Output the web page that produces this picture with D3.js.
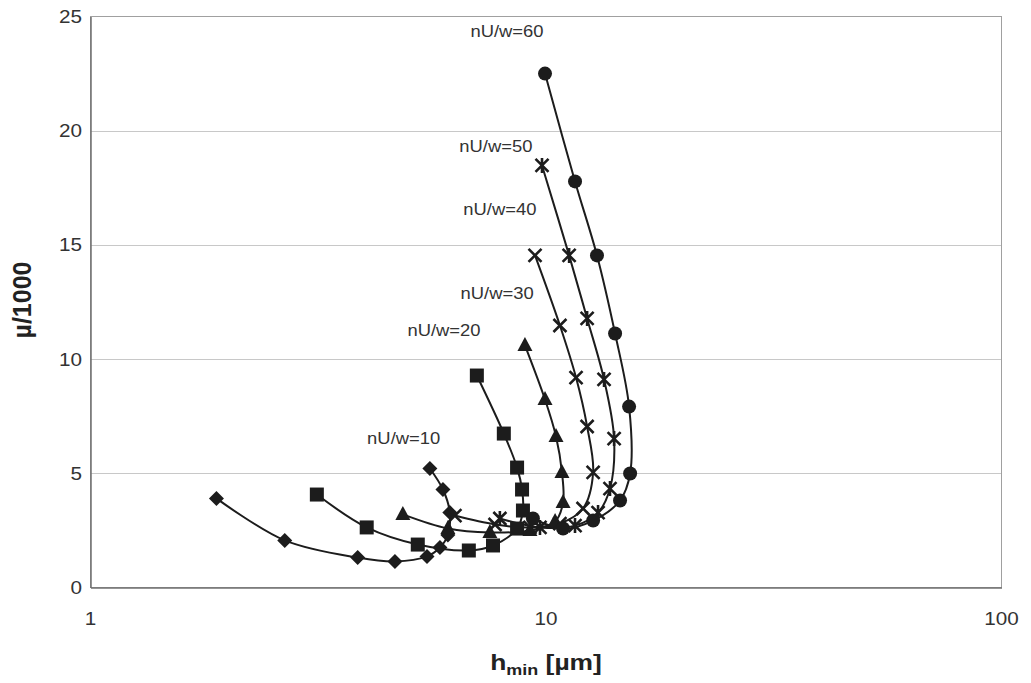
<!DOCTYPE html>
<html>
<head>
<meta charset="utf-8">
<script src="https://cdn.jsdelivr.net/npm/d3@7"></script>
<style>
  html, body { margin: 0; padding: 0; background: #ffffff; }
  svg { display: block; font-family: "Liberation Sans", Arial, sans-serif; }
</style>
</head>
<body>
<svg id="chart" width="1031" height="683"></svg>
<script>
// Minimum film thickness h_min [µm] against µ/1000 for several nU/w values
const groupNames = ["nU/w=10", "nU/w=20", "nU/w=30", "nU/w=40", "nU/w=50", "nU/w=60"];

const hmin10 = [5.56, 5.94, 6.15, 6.09, 5.85, 5.48, 4.66, 3.86, 2.67, 1.89];
const mu10   = [5.21, 4.29, 3.28, 2.30, 1.75, 1.36, 1.14, 1.31, 2.06, 3.90];

const hmin20 = [7.05, 8.08, 8.64, 8.86, 8.90, 8.64, 7.65, 6.77, 5.23, 4.04, 3.14];
const mu20   = [9.28, 6.74, 5.25, 4.29, 3.37, 2.58, 1.84, 1.62, 1.88, 2.63, 4.07];

const hmin30 = [8.99, 9.95, 10.52, 10.84, 10.90, 10.47, 9.22, 7.53, 6.09, 4.85];
const mu30   = [10.60, 8.23, 6.61, 5.04, 3.72, 2.89, 2.50, 2.41, 2.58, 3.20];

const hmin40 = [9.46, 10.73, 11.64, 12.31, 12.69, 12.06, 10.73, 9.22, 7.73, 6.31];
const mu40   = [14.54, 11.47, 9.19, 7.05, 5.04, 3.46, 2.80, 2.63, 2.76, 3.15];

const hmin50 = [9.80, 11.24, 12.31, 13.41, 14.11, 13.82, 13.01, 11.58, 9.70, 7.92];
const mu50   = [18.48, 14.54, 11.78, 9.11, 6.52, 4.33, 3.28, 2.71, 2.63, 3.02];

const hmin60 = [9.95, 11.58, 12.94, 14.18, 15.22, 15.30, 14.54, 12.69, 10.90, 9.36];
const mu60   = [22.50, 17.78, 14.54, 11.12, 7.92, 4.99, 3.81, 2.93, 2.58, 3.02];

const markerKinds = ["diamond", "square", "triangle", "cross", "star", "circle"];

// Where each curve's name is written (data units: h_min, µ/1000)
const labelH  = [4.87, 5.97, 7.81, 7.92, 7.76, 8.21];
const labelMu = [6.30, 10.99, 12.65, 16.33, 19.05, 24.10];

const xTickValues = [1, 10, 100];
const yTickValues = [0, 5, 10, 15, 20, 25];

const seriesH  = [hmin10, hmin20, hmin30, hmin40, hmin50, hmin60];
const seriesMu = [mu10, mu20, mu30, mu40, mu50, mu60];

const series = groupNames.map((name, i) => ({
  name,
  kind: markerKinds[i],
  points: seriesH[i].map((h, j) => ({ h, mu: seriesMu[i][j] }))
}));

// ---- layout ----
const svg = d3.select("#chart");
const plot = { left: 90.5, right: 1001.5, top: 16.5, bottom: 587.5 };
const widen = 1.15;   // text is set slightly wide

const x = d3.scaleLog().domain([1, 100]).range([plot.left, plot.right]);
const y = d3.scaleLinear().domain([0, 25]).range([plot.bottom, plot.top]);

const ink = "#1c1c1c";
const textInk = "#333333";

// horizontal gridlines
svg.append("g")
  .selectAll("line")
  .data(yTickValues.filter(v => v > 0 && v < 25))
  .join("line")
  .attr("x1", plot.left).attr("x2", plot.right)
  .attr("y1", d => Math.round(y(d)) + 0.5).attr("y2", d => Math.round(y(d)) + 0.5)
  .attr("stroke", "#c8c8c8").attr("stroke-width", 1);

// plot frame
svg.append("rect")
  .attr("x", plot.left).attr("y", plot.top)
  .attr("width", plot.right - plot.left).attr("height", plot.bottom - plot.top)
  .attr("fill", "none").attr("stroke", "#a0a0a0").attr("stroke-width", 1);

// axes (labels drawn by hand so they can be widened)
const yAxis = d3.axisLeft(y).tickValues(yTickValues).tickSize(0).tickFormat("");
const gy = svg.append("g").attr("transform", `translate(${plot.left},0)`).call(yAxis);
gy.select(".domain").attr("stroke", "#707070").attr("stroke-width", 1.5);

svg.append("g")
  .selectAll("text")
  .data(yTickValues)
  .join("text")
  .attr("transform", d => `translate(82,${y(d)}) scale(${widen},1)`)
  .attr("text-anchor", "end")
  .attr("dy", "0.36em")
  .attr("fill", textInk)
  .style("font-size", "18px")
  .text(d3.format("d"));

const xAxis = d3.axisBottom(x).tickValues(xTickValues).tickSize(0).tickFormat("");
const gx = svg.append("g").attr("transform", `translate(0,${plot.bottom})`).call(xAxis);
gx.select(".domain").attr("stroke", "#707070").attr("stroke-width", 1.5);

svg.append("g")
  .selectAll("text")
  .data(xTickValues)
  .join("text")
  .attr("transform", d => `translate(${x(d)},625) scale(${widen},1)`)
  .attr("text-anchor", "middle")
  .attr("fill", textInk)
  .style("font-size", "18px")
  .text(d3.format("d"));

// axis titles
const xTitle = svg.append("text")
  .attr("transform", `translate(${(plot.left + plot.right) / 2},670) scale(1.2,1)`)
  .attr("text-anchor", "middle")
  .attr("fill", "#222")
  .style("font-size", "22px").style("font-weight", "bold");
xTitle.append("tspan").text("h");
xTitle.append("tspan").attr("dy", 5).style("font-size", "15px").text("min");
xTitle.append("tspan").attr("dy", -5).text(" [µm]");

svg.append("text")
  .attr("transform", `translate(31,300) rotate(-90)`)
  .attr("text-anchor", "middle")
  .attr("fill", "#222")
  .style("font-size", "25px").style("font-weight", "bold")
  .text("µ/1000");

// curves
const line = d3.line()
  .x(d => x(d.h)).y(d => y(d.mu))
  .curve(d3.curveCatmullRom.alpha(0.5));

const g = svg.append("g");
g.selectAll("path.curve")
  .data(series)
  .join("path")
  .attr("class", "curve")
  .attr("d", d => line(d.points))
  .attr("fill", "none")
  .attr("stroke", ink)
  .attr("stroke-width", 2);

// markers
function drawMarker(sel, kind) {
  if (kind === "circle") {
    sel.append("circle").attr("r", 7).attr("fill", ink);
  } else if (kind === "square") {
    sel.append("rect").attr("x", -7).attr("y", -7).attr("width", 14).attr("height", 14).attr("fill", ink);
  } else if (kind === "diamond") {
    sel.append("path").attr("d", "M0,-7.5L7.5,0L0,7.5L-7.5,0Z").attr("fill", ink);
  } else if (kind === "triangle") {
    sel.append("path").attr("d", "M0,-8.5L7.5,5.5L-7.5,5.5Z").attr("fill", ink);
  } else if (kind === "cross") {
    sel.append("path").attr("d", "M-6.5,-6.5L6.5,6.5M-6.5,6.5L6.5,-6.5")
      .attr("stroke", ink).attr("stroke-width", 2.6).attr("fill", "none");
  } else if (kind === "star") {
    sel.append("path").attr("d", "M-6.5,-6.5L6.5,6.5M-6.5,6.5L6.5,-6.5M0,-7.5L0,7.5")
      .attr("stroke", ink).attr("stroke-width", 2.6).attr("fill", "none");
  }
}

series.forEach(s => {
  g.append("g")
    .selectAll("g")
    .data(s.points)
    .join("g")
    .attr("transform", d => `translate(${x(d.h)},${y(d.mu)})`)
    .each(function () { drawMarker(d3.select(this), s.kind); });
});

// curve names
svg.append("g")
  .selectAll("text")
  .data(groupNames)
  .join("text")
  .attr("transform", (d, i) => `translate(${x(labelH[i])},${y(labelMu[i])}) scale(${widen},1)`)
  .attr("text-anchor", "middle")
  .attr("fill", textInk)
  .style("font-size", "16px")
  .text(d => d);
</script>
</body>
</html>
